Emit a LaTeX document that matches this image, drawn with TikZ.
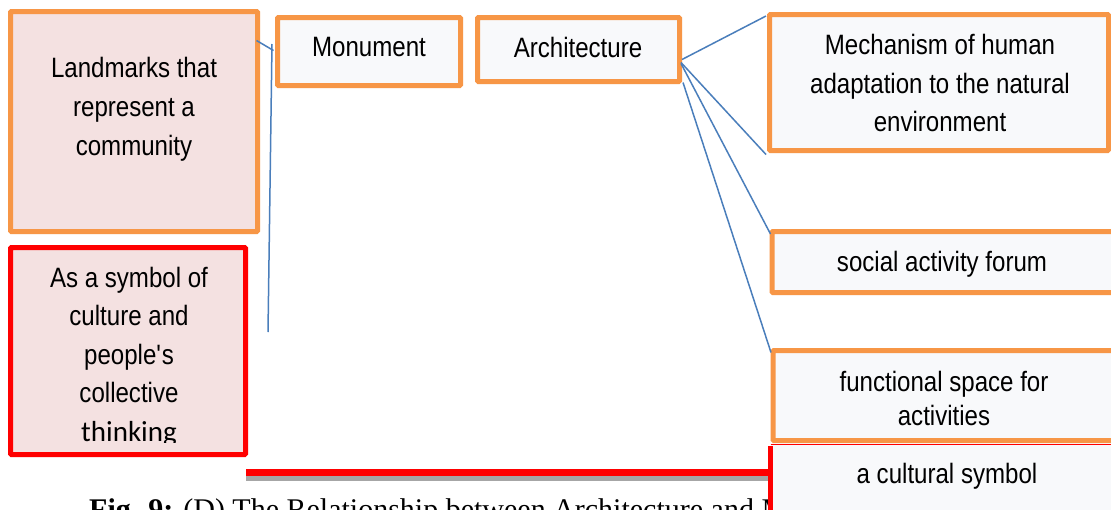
\documentclass[tikz,border=0pt]{standalone}
\usepackage{fontspec}
\setmainfont{Liberation Sans}[FakeStretch=0.86]
\newfontfamily\capfont{Liberation Serif}
\newfontfamily\thinkfont{Carlito}
\definecolor{orangeC}{HTML}{F79646}
\definecolor{redC}{HTML}{FF0000}
\definecolor{blueC}{HTML}{4A7EBB}
\definecolor{pinkC}{HTML}{F4E1E1}
\definecolor{lightC}{HTML}{F8F9FB}
\definecolor{shadowC}{HTML}{A6A6A6}
\begin{document}
\begin{tikzpicture}[x=1pt,y=-1pt,
  obox/.style={draw=orangeC, line width=5pt, fill=lightC, inner sep=0pt, rounded corners=1pt},
  pbox/.style={obox, fill=pinkC},
  rbox/.style={draw=redC, line width=5pt, fill=pinkC, inner sep=0pt, rounded corners=1pt},
  txt/.style={align=center, inner sep=0pt, font=\fontsize{28}{39}\selectfont},
  conn/.style={draw=blueC, line width=1.5pt}]
\useasboundingbox (0,0) rectangle (1111,509);
\clip (0,0) rectangle (1111,509);
\fill[white] (0,0) rectangle (1111,509);

% caption (partly hidden)
\node[anchor=base west, inner sep=0pt, font=\capfont\fontsize{30}{36}\selectfont] (cap) at (89,519)
  {\textbf{Fig. 9:} (D) The Relationship between Architecture and M};

% red bar with shadow
\coordinate (rs) at (246,472.5);
\fill[shadowC] (246,474) rectangle (768,481);

% boxes
\node[pbox, minimum width=247, minimum height=220] (land) at (134,121.5) {};
\node[obox, minimum width=183, minimum height=68] (mon) at (369,51.5) {};
\node[obox, minimum width=202, minimum height=64] (arch) at (578.5,49.5) {};
\node[obox, minimum width=339, minimum height=136] (mech) at (939,82.5) {};
\node[obox, minimum width=380, minimum height=61, anchor=west] (soc) at (769.5,262) {};
\node[obox, minimum width=380, minimum height=90, anchor=west] (func) at (770.5,395.5) {};
\node[rbox, minimum width=235, minimum height=207] (sym) at (128,351) {};
\node[fill=lightC, inner sep=0pt, minimum width=400, minimum height=80, anchor=north west] (cult) at (770.5,444) {};
\draw[redC, line width=1pt] (cult.north west) -- (cult.north east);
\draw[redC, line width=5pt] ([yshift=-2]cult.north west) -- (cult.south west);
\draw[redC, line width=7pt] (rs) -- (rs -| cult.west);

% texts
\node[txt] (tland) at (134,109.5) {Landmarks that\\represent a\\community};
\node[txt] (tmon) at (369,47) {Monument};
\node[txt] (tarch) at (578,47) {Architecture};
\node[txt, font=\fontsize{28}{38.5}\selectfont] (tmech) at (940,83) {Mechanism of human\\adaptation to the natural\\environment};
\node[txt] (tsoc) at (942,264) {social activity forum};
\node[txt, font=\fontsize{28}{34}\selectfont] (tfunc) at (944,398) {functional space for\\activities};
\node[txt] (tcult) at (947,476) {a cultural symbol};
\begin{scope}
\clip (13,250) rectangle (243,442);
\node[txt, font=\fontsize{28}{38.5}\selectfont, anchor=north] (tsym) at (129,267)
  {As a symbol of\\culture and\\people\textquotesingle s\\collective\\{\thinkfont\fontsize{29}{38.5}\selectfont thinking}};
\end{scope}

% connectors
\draw[conn] ([shift={(-3.5,31.5)}]land.north east) -- ([shift={(-1.5,35.5)}]mon.north west);
\coordinate (vt) at (272,44);
\coordinate (vb) at (268,332);
\draw[conn] (vt) -- (vb);
\draw[conn] ([shift={(0,10)}]arch.east) -- ([shift={(-1,4)}]mech.north west);
\draw[conn] ([shift={(-1,13)}]arch.east) -- ([shift={(-1,1.5)}]mech.south west);
\draw[conn] ([shift={(-1,14)}]arch.east) -- ([shift={(1,5)}]soc.north west);
\draw[conn] ([shift={(1,33)}]arch.east) -- ([shift={(0.5,4.5)}]func.north west);
\end{tikzpicture}
\end{document}
